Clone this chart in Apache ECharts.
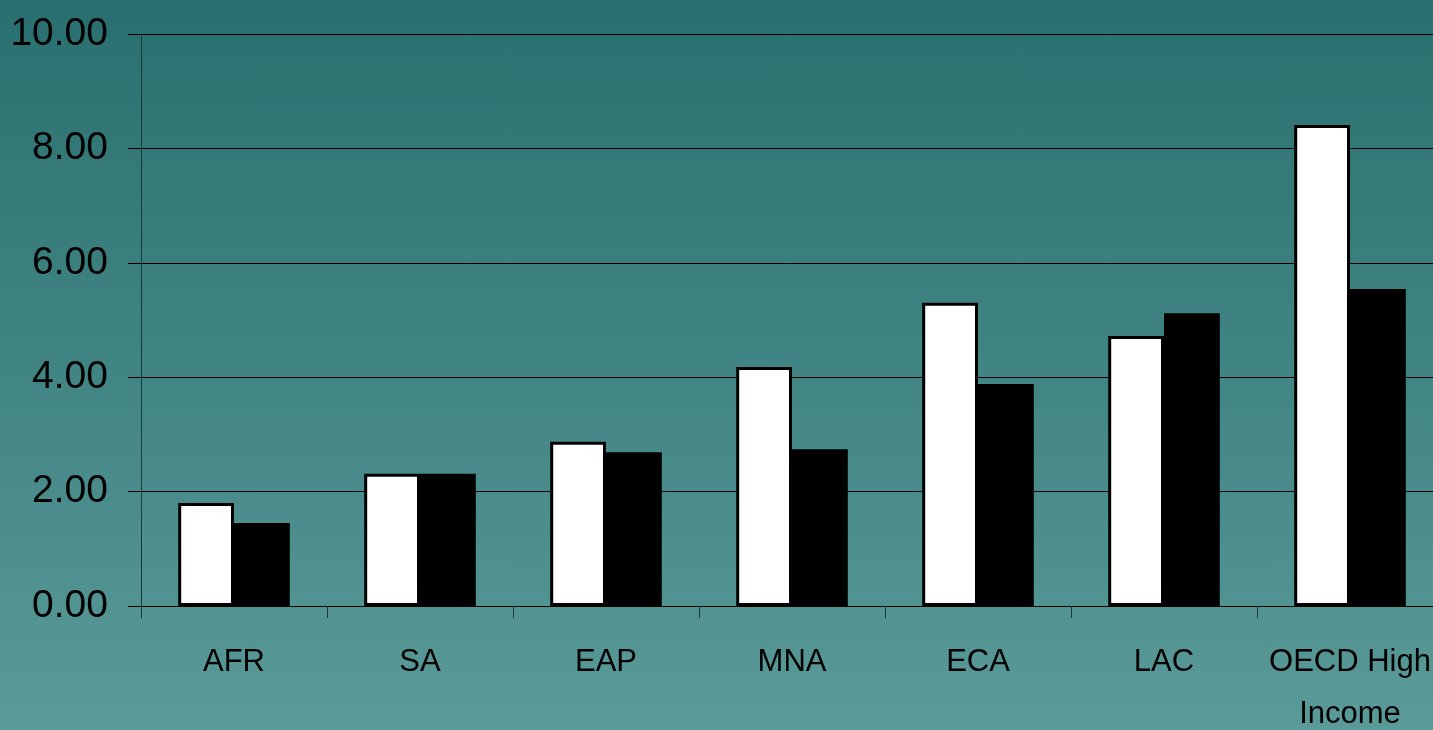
<!DOCTYPE html>
<html>
<head>
<meta charset="utf-8">
<script src="https://cdn.jsdelivr.net/npm/echarts@6/dist/echarts.min.js"></script>
<style>
html,body{margin:0;padding:0;width:1433px;height:730px;overflow:hidden;background:linear-gradient(to bottom,#2a6f6f 0%,#418484 50%,#5a9b99 100%);}
#c{width:1433px;height:730px;}
</style>
</head>
<body>
<div id="c"></div>
<script>
const categories = ['AFR', 'SA', 'EAP', 'MNA', 'ECA', 'LAC', 'OECD High\nIncome'];
const whiteSeries = [1.80, 2.31, 2.87, 4.18, 5.30, 4.72, 8.41];
const blackSeries = [1.45, 2.31, 2.69, 2.74, 3.88, 5.12, 5.54];
const yMin = 0, yMax = 10, yStep = 2;

const chart = echarts.init(document.getElementById('c'), null, {renderer: 'canvas'});
chart.setOption({
  backgroundColor: 'transparent',
  animation: false,
  grid: {left: 141, width: 1302, top: 34, height: 572, containLabel: false, outerBoundsMode: 'none'},
  xAxis: {
    type: 'category',
    data: categories,
    axisLine: {show: true, lineStyle: {color: '#000', width: 1}},
    axisTick: {show: true, length: 12, alignWithLabel: false, interval: 0, lineStyle: {color: '#1a3a3a', width: 1}},
    axisLabel: {interval: 0, margin: 30, color: '#000', fontFamily: '"Liberation Sans", Arial, sans-serif', fontSize: 31, lineHeight: 52, hideOverlap: false}
  },
  yAxis: {
    type: 'value',
    min: yMin, max: yMax, interval: yStep,
    axisLine: {show: true, lineStyle: {color: '#1a3a3a', width: 1}},
    axisTick: {show: true, length: 13, lineStyle: {color: '#000', width: 1}},
    splitLine: {show: true, lineStyle: {color: '#000', width: 1}},
    axisLabel: {margin: 33, color: '#000', fontFamily: '"Liberation Sans", Arial, sans-serif', fontSize: 39, formatter: v => v.toFixed(2)}
  },
  series: [
    {type: 'bar', data: whiteSeries, barGap: '0%', barCategoryGap: '40%',
     itemStyle: {color: '#ffffff', borderColor: '#000', borderWidth: 3}},
    {type: 'bar', data: blackSeries, barGap: '0%', barCategoryGap: '40%',
     itemStyle: {color: '#000000', borderColor: '#000', borderWidth: 3}}
  ]
});
</script>
</body>
</html>
